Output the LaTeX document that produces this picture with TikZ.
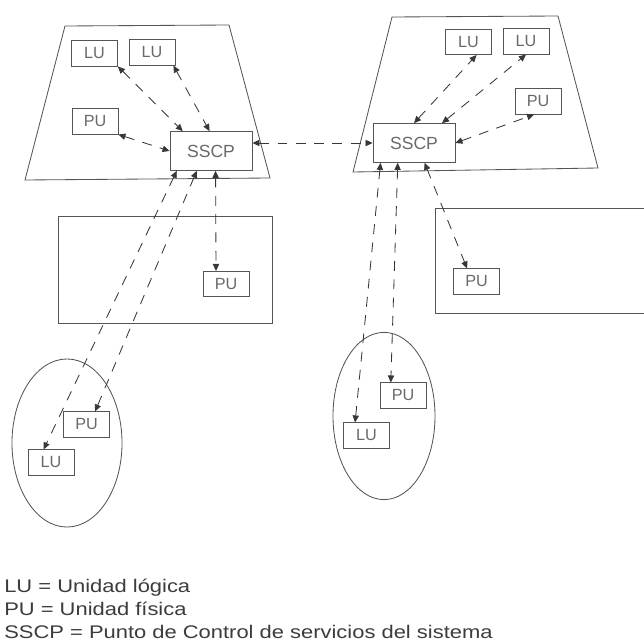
\documentclass[tikz,border=0pt]{standalone}
\usepackage{fontspec}
\usepackage{graphicx}
\setsansfont{Liberation Sans}
\usetikzlibrary{arrows.meta, shapes.geometric}
\definecolor{edgegray}{RGB}{85,85,85}
\definecolor{linkgray}{RGB}{55,55,55}
\definecolor{labelgray}{RGB}{105,105,105}
\definecolor{textgray}{RGB}{60,60,60}
\newcommand{\legendtext}[1]{\scalebox{1.2}[1]{#1}}

\begin{document}
\begin{tikzpicture}[x=0.025cm, y=-0.025cm,
    unit/.style={rectangle, draw=edgegray, line width=0.6pt, fill=white, minimum width=1.15cm, minimum height=0.63cm, inner sep=0pt, text=labelgray, font=\sffamily\fontsize{11.5}{13}\selectfont},
    ctrl/.style={unit, minimum width=2.05cm, minimum height=0.97cm, font=\sffamily\fontsize{12.5}{14}\selectfont},
    site/.style={ellipse, draw=edgegray, line width=0.6pt, inner sep=0pt},
    region/.style={draw=edgegray, line width=0.6pt},
    link/.style={{Triangle[length=5pt,width=4.5pt]}-{Triangle[length=5pt,width=4.5pt]}, draw=linkgray, line width=0.6pt, dash pattern=on 7pt off 6pt},
    legend/.style={anchor=base west, inner sep=0pt, text=textgray, font=\sffamily\fontsize{13}{15}\selectfont}
]
\useasboundingbox (0,0) rectangle (644,643);

% host areas
\draw[region] (65,26) -- (229,25) -- (270,178) -- (25,180) -- cycle;
\draw[region] (392,17) -- (558,16) -- (598,168) -- (353,172) -- cycle;
\draw[region] (58,216) rectangle (272,323);
\draw[region] (435,208) rectangle (660,313);
\node[site, minimum width=2.75cm, minimum height=4.2cm] (siteC) at (67,443) {};
\node[site, minimum width=2.55cm, minimum height=4.18cm] (siteD) at (384,416) {};

% left host
\node[unit] (luA) at (94.5,53.5) {LU};
\node[unit] (luB) at (152,52.5) {LU};
\node[unit] (puA) at (95,121.5) {PU};
\node[ctrl] (sscpA) at (211,151) {SSCP};
\node[unit] (puB) at (226,284) {PU};
\node[unit] (puC) at (86.5,424.5) {PU};
\node[unit] (luC) at (51,462.5) {LU};

% right host
\node[unit] (luD) at (468.5,42) {LU};
\node[unit] (luE) at (526,41.5) {LU};
\node[unit] (puD) at (538,101.5) {PU};
\node[ctrl] (sscpB) at (414,143) {SSCP};
\node[unit] (puF) at (476.5,281.5) {PU};
\node[unit] (puE) at (403,395.5) {PU};
\node[unit] (luF) at (366.5,435.5) {LU};

% sessions
\draw[link] (luA.south east) -- ([xshift=0.33cm]sscpA.north west);
\draw[link] ([xshift=-0.05cm]luB.south east) -- ([xshift=1.0cm]sscpA.north west);
\draw[link] (puA.south east) -- (sscpA.west);
\draw[link] (sscpA.east |- sscpB.west) -- (sscpB.west);
\draw[link] ([xshift=0.18cm]sscpA.south west) -- ([xshift=0.4cm]luC.north west);
\draw[link] ([xshift=0.68cm]sscpA.south west) -- ([xshift=0.8cm]puC.north west);
\draw[link] ([xshift=1.15cm]sscpA.south west) -- ([xshift=-0.25cm]puB.north);

\draw[link] (sscpB.north) -- ([xshift=0.2cm]luD.south);
\draw[link] ([xshift=0.7cm]sscpB.north) -- (luE.south);
\draw[link] (sscpB.east) -- ([xshift=-0.1cm]puD.south);
\draw[link] ([xshift=0.2cm]sscpB.south west) -- ([xshift=0.3cm]luF.north west);
\draw[link] ([xshift=0.63cm]sscpB.south west) -- ([xshift=0.28cm]puE.north west);
\draw[link] ([xshift=1.3cm]sscpB.south west) -- ([xshift=0.35cm]puF.north west);

% legend
\node[legend] (lgLU) at (4,592) {\legendtext{LU = Unidad lógica}};
\node[legend] (lgPU) at (4,615) {\legendtext{PU = Unidad física}};
\node[legend] (lgSSCP) at (4,638) {\legendtext{SSCP = Punto de Control de servicios del sistema}};
\end{tikzpicture}
\end{document}
